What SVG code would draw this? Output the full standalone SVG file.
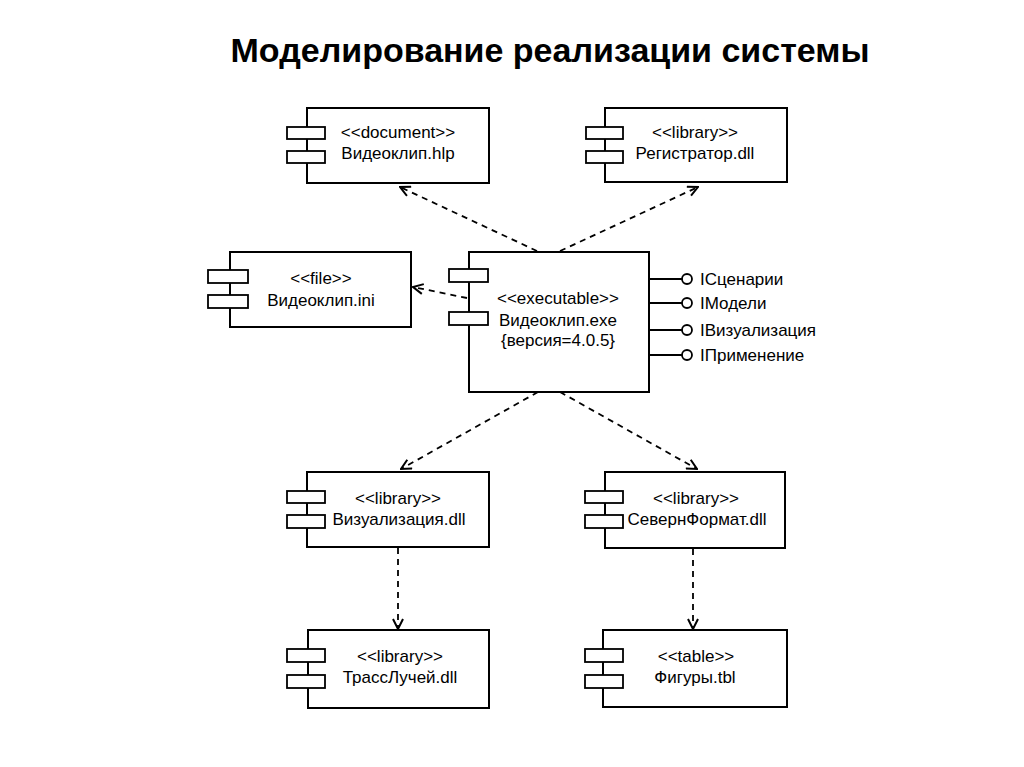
<svg xmlns="http://www.w3.org/2000/svg" width="1024" height="767" viewBox="0 0 1024 767">
<style>
.box{fill:#fff;stroke:#000;stroke-width:2}
.tab{fill:#fff;stroke:#000;stroke-width:1.8}
.t{font-family:"Liberation Sans",Arial,sans-serif;font-size:17px;fill:#000;text-anchor:middle}
.l{font-family:"Liberation Sans",Arial,sans-serif;font-size:17px;fill:#000}
.title{font-family:"Liberation Sans",Arial,sans-serif;font-size:34px;font-weight:bold;fill:#000;text-anchor:middle}
.dep{fill:none;stroke:#000;stroke-width:1.8;stroke-dasharray:6 5;marker-end:url(#arr)}
.ln{stroke:#000;stroke-width:1.8}
.cir{fill:#fff;stroke:#000;stroke-width:1.8}
</style>
<defs>
<marker id="arr" viewBox="0 0 12 12" refX="11" refY="6" markerWidth="12" markerHeight="12" markerUnits="userSpaceOnUse" orient="auto">
<path d="M1,1 L11,6 L1,11" fill="none" stroke="#000" stroke-width="2"/>
</marker>
</defs>
<rect width="1024" height="767" fill="#fff"/>
<text class="title" x="550" y="62">Моделирование реализации системы</text>

<g id="hlp">
<rect class="box" x="307" y="108" width="182" height="75"/>
<rect class="tab" x="287" y="127" width="38" height="12"/>
<rect class="tab" x="287" y="151" width="38" height="12"/>
<text class="t" x="398" y="138">&lt;&lt;document&gt;&gt;</text>
<text class="t" x="398" y="159">Видеоклип.hlp</text>
</g>

<g id="reg">
<rect class="box" x="605" y="108" width="182" height="74"/>
<rect class="tab" x="586" y="127" width="37" height="12"/>
<rect class="tab" x="586" y="151" width="37" height="12"/>
<text class="t" x="695" y="138">&lt;&lt;library&gt;&gt;</text>
<text class="t" x="695" y="159">Регистратор.dll</text>
</g>

<g id="ini">
<rect class="box" x="230" y="252" width="181" height="75"/>
<rect class="tab" x="208" y="270" width="40" height="13"/>
<rect class="tab" x="208" y="295" width="40" height="13"/>
<text class="t" x="321" y="284">&lt;&lt;file&gt;&gt;</text>
<text class="t" x="321" y="306">Видеоклип.ini</text>
</g>

<g id="exe">
<rect class="box" x="469" y="252" width="180" height="140"/>
<rect class="tab" x="449" y="269" width="39" height="13"/>
<rect class="tab" x="449" y="312" width="39" height="13"/>
<text class="t" x="558" y="304">&lt;&lt;executable&gt;&gt;</text>
<text class="t" x="558" y="326">Видеоклип.exe</text>
<text class="t" x="558" y="346">{версия=4.0.5}</text>
<line class="ln" x1="649" y1="279" x2="682" y2="279"/>
<circle class="cir" cx="687" cy="279" r="5"/>
<text class="l" x="700" y="285">IСценарии</text>
<line class="ln" x1="649" y1="303" x2="682" y2="303"/>
<circle class="cir" cx="687" cy="303" r="5"/>
<text class="l" x="700" y="309">IМодели</text>
<line class="ln" x1="649" y1="330" x2="682" y2="330"/>
<circle class="cir" cx="687" cy="330" r="5"/>
<text class="l" x="700" y="336">IВизуализация</text>
<line class="ln" x1="649" y1="355" x2="682" y2="355"/>
<circle class="cir" cx="687" cy="355" r="5"/>
<text class="l" x="700" y="361">IПрименение</text>
</g>

<g id="viz">
<rect class="box" x="307" y="472" width="182" height="75"/>
<rect class="tab" x="287" y="491" width="38" height="12"/>
<rect class="tab" x="287" y="515" width="38" height="13"/>
<text class="t" x="398" y="504">&lt;&lt;library&gt;&gt;</text>
<text class="t" x="399" y="525">Визуализация.dll</text>
</g>

<g id="sev">
<rect class="box" x="605" y="472" width="180" height="76"/>
<rect class="tab" x="585" y="491" width="38" height="12"/>
<rect class="tab" x="585" y="515" width="38" height="13"/>
<text class="t" x="696" y="504">&lt;&lt;library&gt;&gt;</text>
<text class="t" x="697" y="525">СевернФормат.dll</text>
</g>

<g id="trass">
<rect class="box" x="308" y="630" width="181" height="78"/>
<rect class="tab" x="287" y="649" width="38" height="13"/>
<rect class="tab" x="287" y="675" width="38" height="13"/>
<text class="t" x="400" y="662">&lt;&lt;library&gt;&gt;</text>
<text class="t" x="400" y="683">ТрассЛучей.dll</text>
</g>

<g id="fig">
<rect class="box" x="603" y="630" width="184" height="77"/>
<rect class="tab" x="585" y="649" width="38" height="13"/>
<rect class="tab" x="585" y="675" width="38" height="13"/>
<text class="t" x="696" y="662">&lt;&lt;table&gt;&gt;</text>
<text class="t" x="695" y="683">Фигуры.tbl</text>
</g>

<g id="connectors">
<line class="dep" x1="537" y1="251" x2="400" y2="187"/>
<line class="dep" x1="560" y1="251" x2="698" y2="187"/>
<line class="dep" x1="467" y1="298" x2="413" y2="287"/>
<line class="dep" x1="538" y1="392" x2="401" y2="469"/>
<line class="dep" x1="560" y1="392" x2="697" y2="469"/>
<line class="dep" x1="398" y1="548" x2="398" y2="629"/>
<line class="dep" x1="693" y1="549" x2="693" y2="629"/>
</g>
</svg>
